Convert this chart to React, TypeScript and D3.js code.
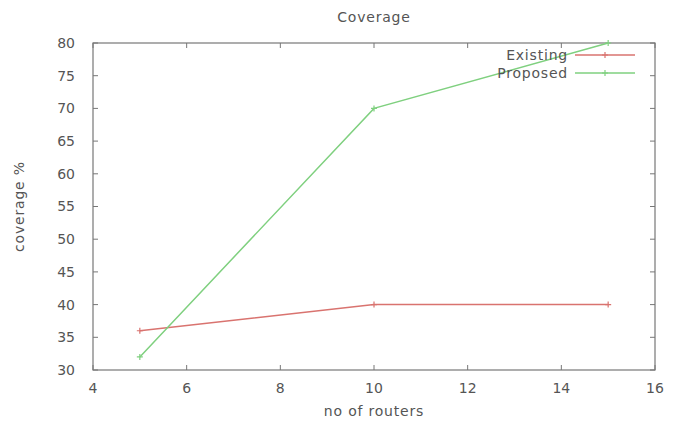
import React, { useEffect, useRef } from 'react';
import * as d3 from 'd3';

const routers = [5, 10, 15];
const existing = [36, 40, 40];
const proposed = [32, 70, 80];
const xTicks = [4, 6, 8, 10, 12, 14, 16];
const yTicks = [30, 35, 40, 45, 50, 55, 60, 65, 70, 75, 80];
const seriesNames = ['Existing', 'Proposed'];
const seriesColors = ['#d9736f', '#7fd07f'];

export default function App() {
  const ref = useRef<SVGSVGElement>(null);

  useEffect(() => {
    const svg = d3.select(ref.current);
    svg.selectAll('*').remove();
    const margin = { top: 43, right: 23, bottom: 53, left: 93 };
    const W = 678, H = 423;
    const w = W - margin.left - margin.right;
    const h = H - margin.top - margin.bottom;

    const x = d3.scaleLinear().domain([4, 16]).range([0, w]);
    const y = d3.scaleLinear().domain([30, 80]).range([h, 0]);

    svg.append('rect').attr('width', W).attr('height', H).attr('fill', '#fff');
    const g = svg.append('g').attr('transform', `translate(${margin.left},${margin.top})`);

    const font = 'DejaVu Sans, sans-serif';
    const textColor = '#555';
    const txt = (sel: any) => sel.attr('font-family', font).attr('font-size', 14)
      .attr('letter-spacing', 0.8).attr('fill', textColor);

    g.append('rect').attr('width', w).attr('height', h)
      .attr('fill', 'none').attr('stroke', '#777').attr('stroke-width', 1.2);

    // ticks on all sides, pointing inward
    const tk = 5;
    xTicks.forEach(t => {
      g.append('line').attr('x1', x(t)).attr('x2', x(t)).attr('y1', h).attr('y2', h - tk).attr('stroke', '#777');
      g.append('line').attr('x1', x(t)).attr('x2', x(t)).attr('y1', 0).attr('y2', tk).attr('stroke', '#777');
      g.append('text').attr('x', x(t)).attr('y', h + 23).attr('text-anchor', 'middle')
        .call(txt).attr('letter-spacing', 0).text(t);
    });
    yTicks.forEach(t => {
      g.append('line').attr('x1', 0).attr('x2', tk).attr('y1', y(t)).attr('y2', y(t)).attr('stroke', '#777');
      g.append('line').attr('x1', w).attr('x2', w - tk).attr('y1', y(t)).attr('y2', y(t)).attr('stroke', '#777');
      g.append('text').attr('x', -18).attr('y', y(t)).attr('dy', '0.35em').attr('text-anchor', 'end')
        .call(txt).attr('letter-spacing', 0).text(t);
    });

    const line = d3.line<number>().x((d, i) => x(routers[i])).y(d => y(d));
    [existing, proposed].forEach((vals, k) => {
      g.append('path').attr('d', line(vals)!).attr('fill', 'none')
        .attr('stroke', seriesColors[k]).attr('stroke-width', 1.5);
      vals.forEach((v, i) => {
        const cx = x(routers[i]), cy = y(v);
        g.append('path').attr('d', `M${cx - 3},${cy}H${cx + 3}M${cx},${cy - 3}V${cy + 3}`)
          .attr('stroke', seriesColors[k]).attr('stroke-width', 1.2);
      });
    });

    // legend
    seriesNames.forEach((name, k) => {
      const ly = 12 + k * 18;
      g.append('text').attr('x', w - 87).attr('y', ly).attr('dy', '0.35em').attr('text-anchor', 'end')
        .call(txt).text(name);
      g.append('line').attr('x1', w - 80).attr('x2', w - 20).attr('y1', ly).attr('y2', ly)
        .attr('stroke', seriesColors[k]).attr('stroke-width', 1.5);
      const cx = w - 50;
      g.append('path').attr('d', `M${cx - 3},${ly}H${cx + 3}M${cx},${ly - 3}V${ly + 3}`)
        .attr('stroke', seriesColors[k]).attr('stroke-width', 1.2);
    });

    svg.append('text').attr('x', margin.left + w / 2).attr('y', 22).attr('text-anchor', 'middle')
      .call(txt).text('Coverage');
    svg.append('text').attr('x', margin.left + w / 2).attr('y', H - 7).attr('text-anchor', 'middle')
      .call(txt).text('no of routers');
    svg.append('text').attr('transform', `translate(24,${margin.top + h / 2}) rotate(-90)`)
      .attr('text-anchor', 'middle').call(txt).text('coverage %');
  }, []);

  return (
    <svg ref={ref} width={678} height={423} style={{ position: 'absolute', left: 0, top: 0 }} />
  );
}
